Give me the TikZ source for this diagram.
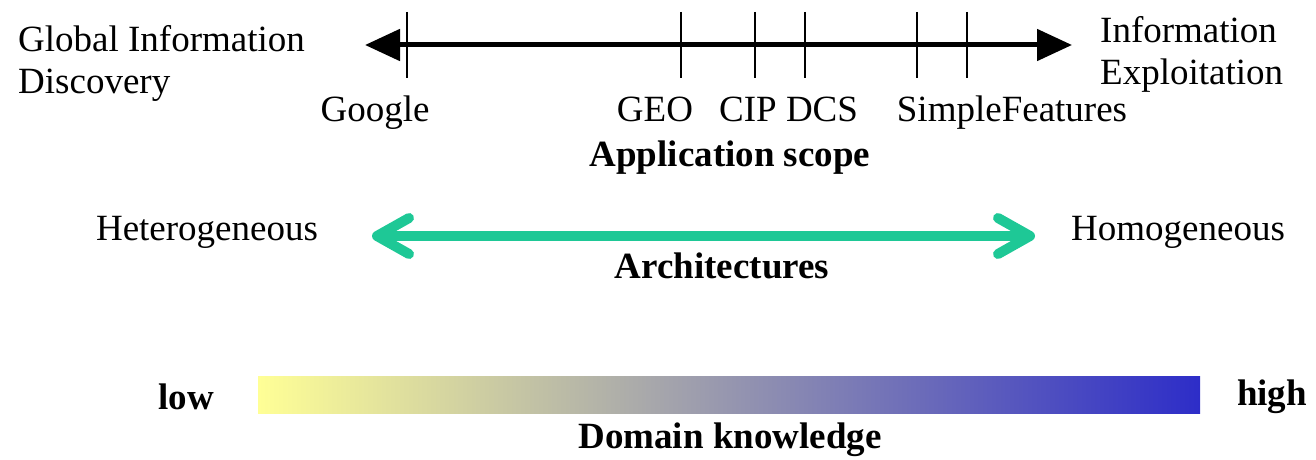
\documentclass[tikz,border=0pt]{standalone}
\usepackage{fontspec}
\setmainfont{Liberation Serif}
\usepackage{tikz}
\usetikzlibrary{arrows.meta, positioning, calc}

\definecolor{archgreen}{RGB}{30,200,150}
\definecolor{lowyellow}{RGB}{255,255,150}
\definecolor{midgray}{RGB}{185,185,170}
\definecolor{highblue}{RGB}{45,45,200}

\begin{document}
\begin{tikzpicture}[x=1pt, y=-1pt,
    lbl/.style={font=\fontsize{37}{42}\selectfont, inner sep=0pt},
    bold/.style={lbl, font=\fontsize{37}{42}\selectfont\bfseries},
    ticklbl/.style={lbl, anchor=base},
    axisarrow/.style={{Triangle[length=35pt,width=31pt]}-{Triangle[length=35pt,width=31pt]}, line width=5pt},
    archarrow/.style={{Straight Barb[length=32pt,width=36pt,line cap=round,line join=round]}-{Straight Barb[length=32pt,width=36pt,line cap=round,line join=round]}, archgreen, line width=10pt}
]
\useasboundingbox (0,0) rectangle (1316,460);

% Application scope
\coordinate (scopeL) at (365,45);
\coordinate (scopeR) at (1072,45);
\draw[axisarrow] (scopeL) -- (scopeR);
\foreach \x in {407,681,755,805,917,967} {
    \draw[line width=1.6pt] (\x,12) -- (\x,78);
}
\node[lbl, align=left, anchor=west] (discovery) at (18,63) {Global Information\\Discovery};
\node[lbl, align=left, anchor=west] (exploit) at (1100,54) {Information\\Exploitation};
\node[ticklbl] (google) at (375,121) {Google};
\node[ticklbl] (geo) at (655,121) {GEO};
\node[ticklbl] (cip) at (748,121) {CIP};
\node[ticklbl] (dcs) at (822,121) {DCS};
\node[ticklbl] (simple) at (1012,121) {SimpleFeatures};
\node[bold] (scope) at (730,158) {Application scope};

% Architectures
\node[lbl] (hetero) at (207,232) {Heterogeneous};
\node[lbl] (homo) at (1178,232) {Homogeneous};
\coordinate (archL) at (372,236);
\coordinate (archR) at (1035,236);
\draw[archarrow] (archL) -- (archR);
\node[bold] (arch) at (722,266) {Architectures};

% Domain knowledge
\shade[left color=lowyellow, middle color=midgray, right color=highblue] (258,376) rectangle (1200,413);
\node[bold] (low) at (186,397) {low};
\node[bold] (high) at (1272,397) {high};
\node[bold] (domain) at (730,440) {Domain knowledge};

\end{tikzpicture}
\end{document}
